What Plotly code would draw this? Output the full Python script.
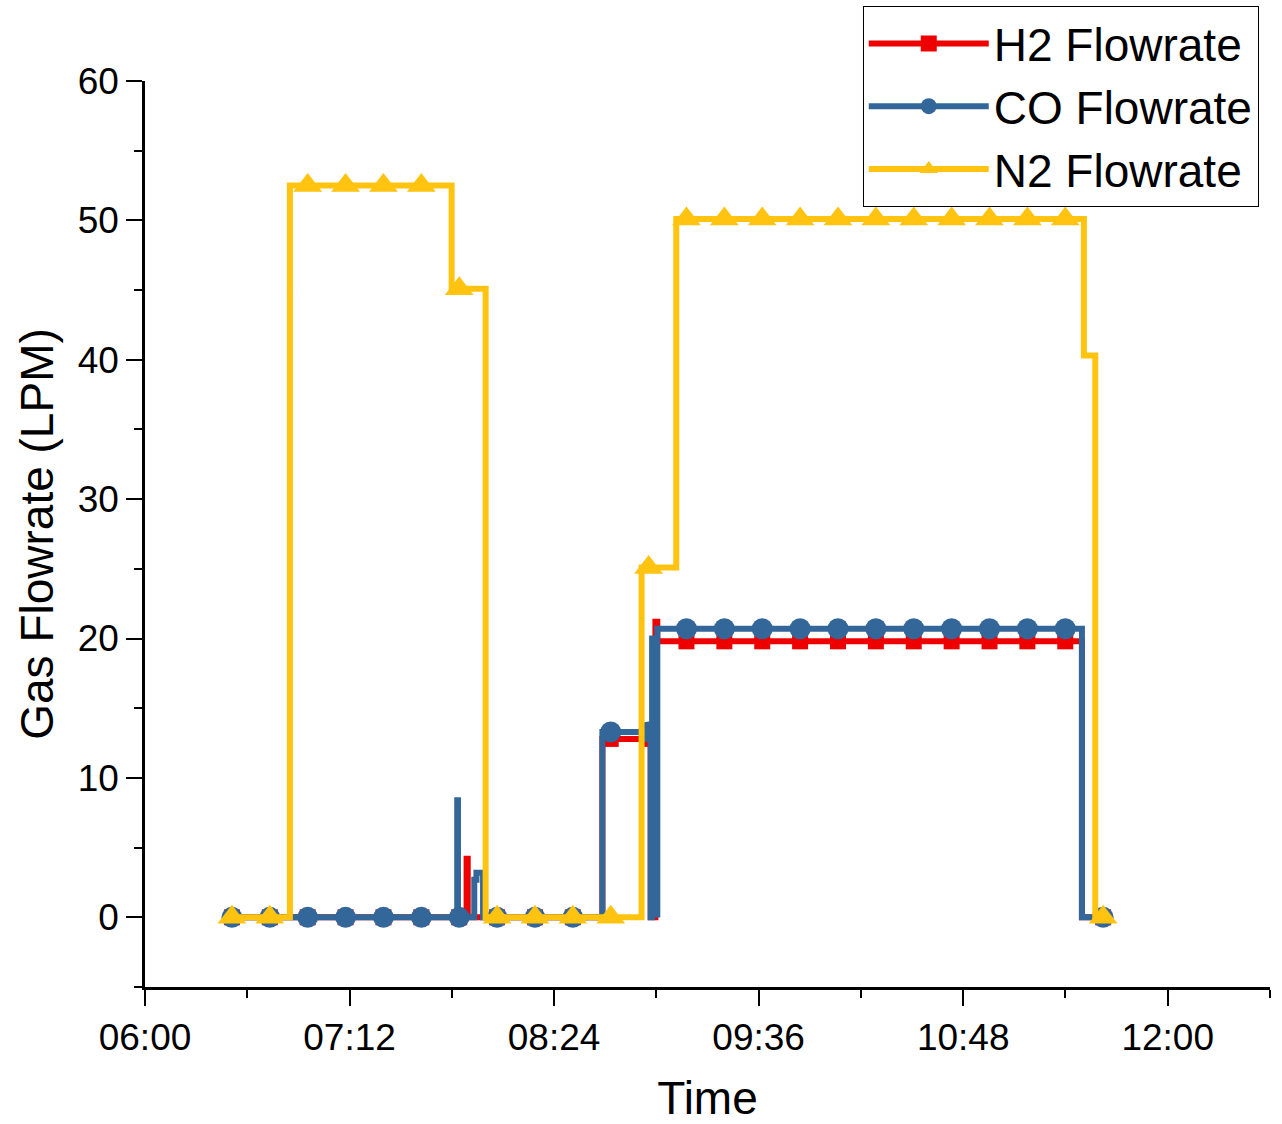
import plotly.graph_objects as go

DAY = "2024-01-01 "

# Step change points: at each time the series takes the new value (drawn as horizontal-then-vertical steps)
h2_step_times = ["06:30:36", "07:53:12", "07:53:36", "08:41:00", "08:58:00", "08:59:40",
                 "09:00:20", "11:29:48", "11:37:16"]
h2_step_values = [0, 4.2, 0, 12.8, 0, 21.2, 19.8, 0, 0]

co_step_times = ["06:30:36", "07:49:54", "07:50:10", "07:55:54", "07:56:40", "07:59:00",
                 "08:41:00", "08:58:00", "08:58:30", "08:59:00", "09:00:20", "11:29:48", "11:37:16"]
co_step_values = [0, 8.4, 0, 2.7, 3.2, 0, 13.3, 0, 20.0, 0.2, 20.7, 0, 0]

n2_step_times = ["06:30:36", "06:51:00", "07:47:56", "07:59:54", "08:54:48", "09:07:00",
                 "11:30:30", "11:34:30", "11:37:16"]
n2_step_values = [0, 52.5, 45.1, 0, 25.1, 50.1, 40.3, 0, 0]

# Points that carry a symbol
marker_times = ["06:30:36", "06:43:56", "06:57:16", "07:10:36", "07:23:56", "07:37:16",
                "07:50:36", "08:03:56", "08:17:16", "08:30:36", "08:43:56", "08:57:16",
                "09:10:36", "09:23:56", "09:37:16", "09:50:36", "10:03:56", "10:17:16",
                "10:30:36", "10:43:56", "10:57:16", "11:10:36", "11:23:56", "11:37:16"]
h2_marker_values = [0, 0, 0, 0, 0, 0, 0, 0, 0, 0, 12.8, 12.8,
                    19.8, 19.8, 19.8, 19.8, 19.8, 19.8, 19.8, 19.8, 19.8, 19.8, 19.8, 0]
co_marker_values = [0, 0, 0, 0, 0, 0, 0, 0, 0, 0, 13.3, 13.3,
                    20.7, 20.7, 20.7, 20.7, 20.7, 20.7, 20.7, 20.7, 20.7, 20.7, 20.7, 0]
n2_marker_values = [0, 0, 52.5, 52.5, 52.5, 52.5, 45.1, 0, 0, 0, 0, 25.1,
                    50.1, 50.1, 50.1, 50.1, 50.1, 50.1, 50.1, 50.1, 50.1, 50.1, 50.1, 0]

FONT = "Arial, Liberation Sans, sans-serif"


def build(step_t, step_v, mark_t, mark_v, color):
    pts = [(t, v, color) for t, v in zip(mark_t, mark_v)]
    pts += [(t, v, "rgba(0,0,0,0)") for t, v in zip(step_t, step_v)]
    pts.sort(key=lambda p: p[0])
    xs = [DAY + p[0] for p in pts]
    ys = [p[1] for p in pts]
    cs = [p[2] for p in pts]
    return xs, ys, cs


series = [
    ("H2 Flowrate", h2_step_times, h2_step_values, h2_marker_values, "#EE0000", "square", 16),
    ("CO Flowrate", co_step_times, co_step_values, co_marker_values, "#336699", "circle", 21),
    ("N2 Flowrate", n2_step_times, n2_step_values, n2_marker_values, "#FFC310", "triangle-up", 25),
]

fig = go.Figure()
for name, st, sv, mv, color, sym, size in series:
    xs, ys, cs = build(st, sv, marker_times, mv, color)
    fig.add_trace(go.Scatter(
        x=xs, y=ys, name=name, mode="lines+markers",
        line=dict(color=color, width=6, shape="hv"),
        marker=dict(symbol=sym, size=size, color=cs, line=dict(width=0)),
    ))

fig.update_layout(
    width=1282, height=1124,
    margin=dict(l=145, r=12, t=81, b=137, autoexpand=False),
    paper_bgcolor="white", plot_bgcolor="white",
    font=dict(family=FONT, color="black", size=37),
    showlegend=True,
    legend=dict(
        x=0.99, xanchor="right", y=1.0828, yanchor="top",
        bgcolor="white", bordercolor="black", borderwidth=1,
        font=dict(family=FONT, size=46, color="black"),
        itemwidth=120,
    ),
)

fig.update_xaxes(
    type="date", automargin=False,
    range=[DAY + "06:00:00", DAY + "12:36:00"],
    tick0=DAY + "06:00:00", dtick=72 * 60 * 1000, tickformat="%H:%M",
    showline=True, linecolor="black", linewidth=2.5, mirror=False,
    ticks="outside", ticklen=16, tickwidth=2, tickcolor="black",
    minor=dict(dtick=36 * 60 * 1000, ticks="outside", ticklen=8, tickwidth=2, tickcolor="black"),
    showgrid=False, zeroline=False,
    tickfont=dict(family=FONT, size=37, color="black"),
    title=dict(text="Time", font=dict(family=FONT, size=46, color="black"), standoff=35),
)
fig.update_yaxes(
    automargin=False,
    range=[-5, 60], tick0=0, dtick=10,
    showline=True, linecolor="black", linewidth=2.5, mirror=False,
    ticks="outside", ticklen=16, tickwidth=2, tickcolor="black",
    minor=dict(dtick=5, ticks="outside", ticklen=8, tickwidth=2, tickcolor="black"),
    showgrid=False, zeroline=False,
    tickfont=dict(family=FONT, size=37, color="black"),
    title=dict(text="Gas Flowrate (LPM)", font=dict(family=FONT, size=46, color="black"), standoff=10),
)

fig.write_html("out.html")
